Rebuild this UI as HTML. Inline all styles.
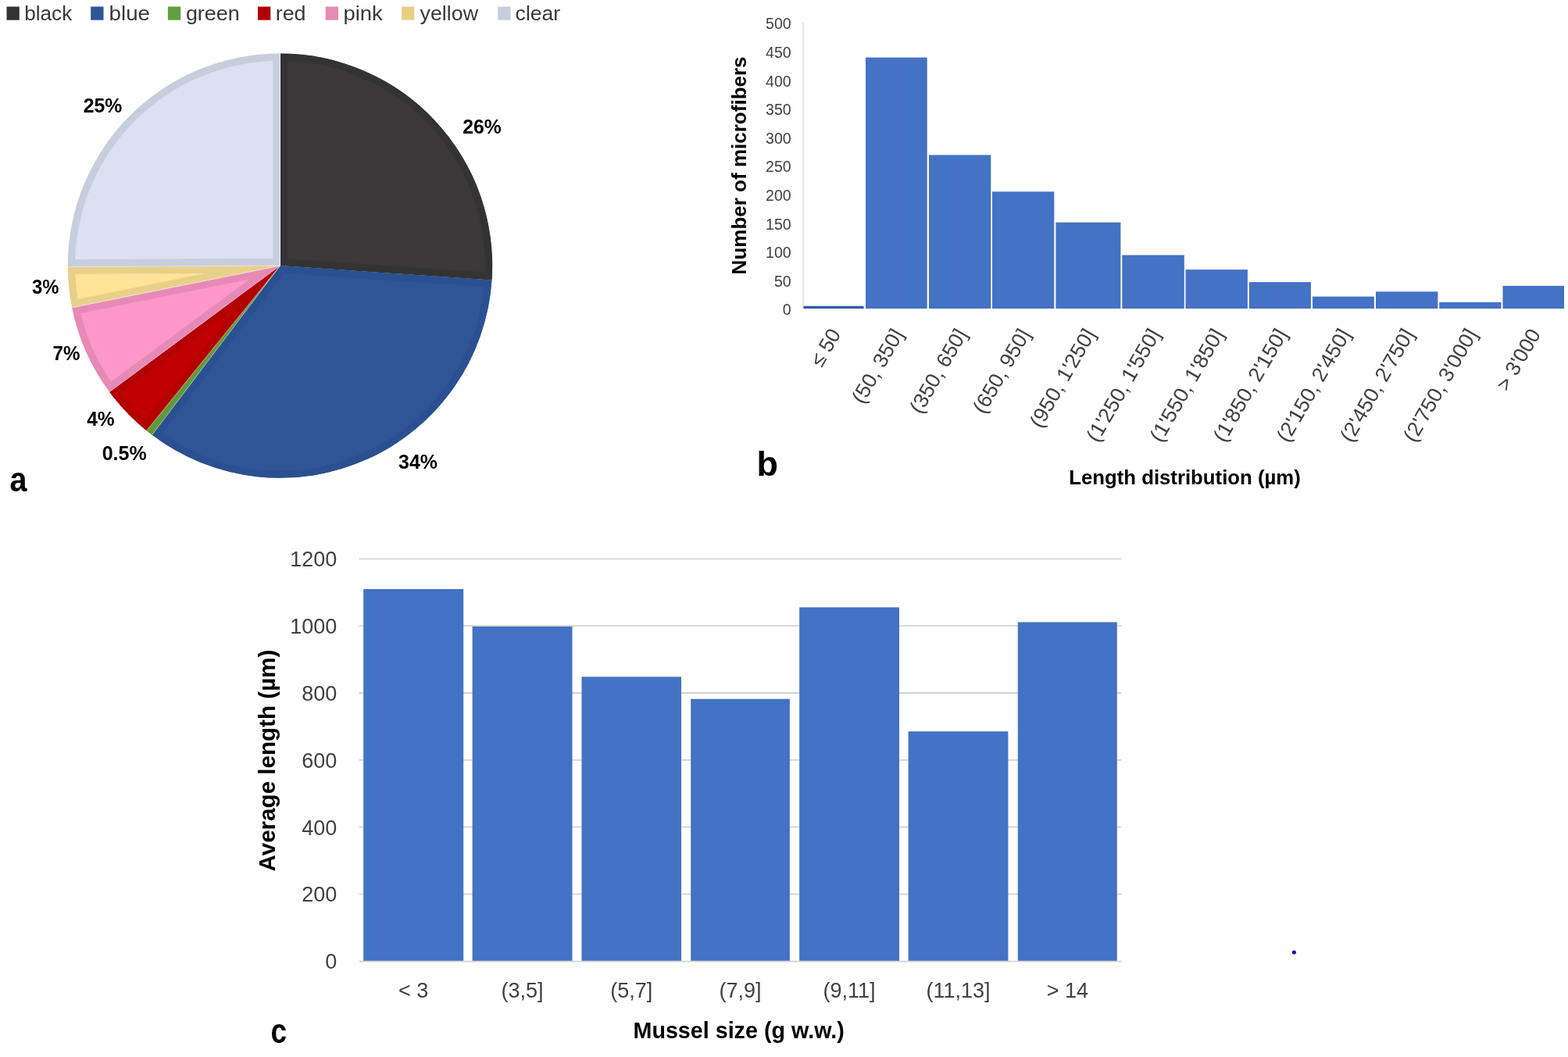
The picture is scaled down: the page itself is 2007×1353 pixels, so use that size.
<!DOCTYPE html>
<html><head><meta charset="utf-8"><title>Figure</title>
<style>html,body{margin:0;padding:0;background:#fff;}svg{display:block;}</style></head>
<body><svg width="2007" height="1353" viewBox="0 0 2007 1353" font-family="'Liberation Sans', sans-serif">
<rect width="2007" height="1353" fill="#fff"/>
<rect x="8.5" y="8.5" width="16.3" height="17.2" fill="#333333"/>
<text x="31.2" y="25.9" font-size="25.5" fill="#383838" textLength="61.1" lengthAdjust="spacingAndGlyphs">black</text>
<rect x="116.2" y="8.5" width="16.3" height="17.2" fill="#2f5597"/>
<text x="139.6" y="25.9" font-size="25.5" fill="#383838" textLength="52.4" lengthAdjust="spacingAndGlyphs">blue</text>
<rect x="214.9" y="8.5" width="16.3" height="17.2" fill="#62a03e"/>
<text x="237.9" y="25.9" font-size="25.5" fill="#383838" textLength="68.9" lengthAdjust="spacingAndGlyphs">green</text>
<rect x="330.0" y="8.5" width="16.3" height="17.2" fill="#b00000"/>
<text x="352.7" y="25.9" font-size="25.5" fill="#383838" textLength="38.8" lengthAdjust="spacingAndGlyphs">red</text>
<rect x="416.7" y="8.5" width="16.3" height="17.2" fill="#e68ab8"/>
<text x="439.4" y="25.9" font-size="25.5" fill="#383838" textLength="50.4" lengthAdjust="spacingAndGlyphs">pink</text>
<rect x="514.0" y="8.5" width="16.3" height="17.2" fill="#e8d089"/>
<text x="537.6" y="25.9" font-size="25.5" fill="#383838" textLength="74.4" lengthAdjust="spacingAndGlyphs">yellow</text>
<rect x="637.3" y="8.5" width="16.3" height="17.2" fill="#c5cedd"/>
<text x="659.6" y="25.9" font-size="25.5" fill="#383838" textLength="57.6" lengthAdjust="spacingAndGlyphs">clear</text>
<defs>
<clipPath id="cp_black"><path d="M358.5,340.1 L358.50,68.40 A271.7,271.7 0 0 1 629.57,358.58 Z"/></clipPath>
<clipPath id="cp_blue"><path d="M358.5,340.1 L629.57,358.58 A271.7,271.7 0 0 1 194.61,556.80 Z"/></clipPath>
<clipPath id="cp_green"><path d="M358.5,340.1 L194.61,556.80 A271.7,271.7 0 0 1 187.51,551.25 Z"/></clipPath>
<clipPath id="cp_red"><path d="M358.5,340.1 L187.51,551.25 A271.7,271.7 0 0 1 140.09,501.71 Z"/></clipPath>
<clipPath id="cp_pink"><path d="M358.5,340.1 L140.09,501.71 A271.7,271.7 0 0 1 92.16,393.80 Z"/></clipPath>
<clipPath id="cp_yellow"><path d="M358.5,340.1 L92.16,393.80 A271.7,271.7 0 0 1 86.80,341.52 Z"/></clipPath>
<clipPath id="cp_clear"><path d="M358.5,340.1 L86.80,341.52 A271.7,271.7 0 0 1 358.50,68.40 Z"/></clipPath>
</defs>
<path d="M358.5,340.1 L358.50,68.40 A271.7,271.7 0 0 1 629.57,358.58 Z" fill="#3a3838" stroke="#343333" stroke-width="18.6" stroke-linejoin="miter" clip-path="url(#cp_black)"/>
<path d="M358.5,340.1 L629.57,358.58 A271.7,271.7 0 0 1 194.61,556.80 Z" fill="#2f5597" stroke="#2b5091" stroke-width="18.6" stroke-linejoin="miter" clip-path="url(#cp_blue)"/>
<path d="M358.5,340.1 L194.61,556.80 A271.7,271.7 0 0 1 187.51,551.25 Z" fill="#70ad47" stroke="#5f9a3a" stroke-width="18.6" stroke-linejoin="miter" clip-path="url(#cp_green)"/>
<path d="M358.5,340.1 L187.51,551.25 A271.7,271.7 0 0 1 140.09,501.71 Z" fill="#c00000" stroke="#b30000" stroke-width="18.6" stroke-linejoin="miter" clip-path="url(#cp_red)"/>
<path d="M358.5,340.1 L140.09,501.71 A271.7,271.7 0 0 1 92.16,393.80 Z" fill="#ff97ca" stroke="#e68ab8" stroke-width="18.6" stroke-linejoin="miter" clip-path="url(#cp_pink)"/>
<path d="M358.5,340.1 L92.16,393.80 A271.7,271.7 0 0 1 86.80,341.52 Z" fill="#ffe498" stroke="#e8d08a" stroke-width="18.6" stroke-linejoin="miter" clip-path="url(#cp_yellow)"/>
<path d="M358.5,340.1 L86.80,341.52 A271.7,271.7 0 0 1 358.50,68.40 Z" fill="#dae2f2" stroke="#c6cedc" stroke-width="18.6" stroke-linejoin="miter" clip-path="url(#cp_clear)"/>
<line x1="358.50" y1="340.10" x2="358.50" y2="68.90" stroke="#ffffff" stroke-width="1" opacity="0.85"/>
<line x1="358.50" y1="340.10" x2="194.91" y2="556.40" stroke="#ffffff" stroke-width="1" opacity="0.45"/>
<line x1="358.50" y1="340.10" x2="187.83" y2="550.86" stroke="#ffffff" stroke-width="1" opacity="0.45"/>
<line x1="358.50" y1="340.10" x2="140.49" y2="501.42" stroke="#ffffff" stroke-width="1" opacity="0.4"/>
<line x1="358.50" y1="340.10" x2="92.65" y2="393.70" stroke="#ffffff" stroke-width="1" opacity="0.5"/>
<line x1="358.50" y1="340.10" x2="87.30" y2="341.52" stroke="#ffffff" stroke-width="1" opacity="0.4"/>
<text x="106.8" y="143.8" font-size="26.5" font-weight="bold" fill="#000" textLength="49.60000000000001" lengthAdjust="spacingAndGlyphs">25%</text>
<text x="592.3000000000001" y="171.4" font-size="26.5" font-weight="bold" fill="#000" textLength="49.49999999999996" lengthAdjust="spacingAndGlyphs">26%</text>
<text x="510.0" y="600.3" font-size="26.5" font-weight="bold" fill="#000" textLength="50.000000000000014" lengthAdjust="spacingAndGlyphs">34%</text>
<text x="40.900000000000006" y="376.1" font-size="26.5" font-weight="bold" fill="#000" textLength="34.5" lengthAdjust="spacingAndGlyphs">3%</text>
<text x="67.5" y="460.8" font-size="26.5" font-weight="bold" fill="#000" textLength="34.900000000000006" lengthAdjust="spacingAndGlyphs">7%</text>
<text x="111.2" y="544.7" font-size="26.5" font-weight="bold" fill="#000" textLength="35.500000000000014" lengthAdjust="spacingAndGlyphs">4%</text>
<text x="130.7" y="589.4" font-size="26.5" font-weight="bold" fill="#000" textLength="57.10000000000001" lengthAdjust="spacingAndGlyphs">0.5%</text>
<text x="12.6" y="629" font-size="45" font-weight="bold" fill="#000" textLength="22" lengthAdjust="spacingAndGlyphs">a</text>
<text x="968.5" y="608.6" font-size="45" font-weight="bold" fill="#000">b</text>
<text x="346.5" y="1334.5" font-size="45" font-weight="bold" fill="#000" textLength="20.5" lengthAdjust="spacingAndGlyphs">c</text>
<line x1="1028" y1="29" x2="1028" y2="395" stroke="#d9d9d9" stroke-width="1.2"/>
<rect x="1028.5" y="391.7" width="77.1" height="3.3" fill="#3259a8"/>
<rect x="1108" y="73.6" width="78.7" height="321.4" fill="#4472c4"/>
<rect x="1189" y="198.4" width="79.3" height="196.6" fill="#4472c4"/>
<rect x="1270" y="245.3" width="79.3" height="149.7" fill="#4472c4"/>
<rect x="1351.4" y="284.7" width="83.0" height="110.3" fill="#4472c4"/>
<rect x="1436.3" y="326.5" width="79.5" height="68.5" fill="#4472c4"/>
<rect x="1517.5" y="345.1" width="79.4" height="49.9" fill="#4472c4"/>
<rect x="1598.9" y="361.1" width="79.0" height="33.9" fill="#4472c4"/>
<rect x="1680" y="379.6" width="78.9" height="15.4" fill="#4472c4"/>
<rect x="1761" y="373.3" width="79.4" height="21.7" fill="#4472c4"/>
<rect x="1842.2" y="386.8" width="79.2" height="8.2" fill="#4472c4"/>
<rect x="1923.5" y="365.9" width="78.5" height="29.1" fill="#4472c4"/>
<text x="1012.6" y="403.3" font-size="19.5" fill="#404040" text-anchor="end">0</text>
<text x="1012.6" y="366.7" font-size="19.5" fill="#404040" text-anchor="end">50</text>
<text x="1012.6" y="330.1" font-size="19.5" fill="#404040" text-anchor="end">100</text>
<text x="1012.6" y="293.5" font-size="19.5" fill="#404040" text-anchor="end">150</text>
<text x="1012.6" y="256.9" font-size="19.5" fill="#404040" text-anchor="end">200</text>
<text x="1012.6" y="220.3" font-size="19.5" fill="#404040" text-anchor="end">250</text>
<text x="1012.6" y="183.7" font-size="19.5" fill="#404040" text-anchor="end">300</text>
<text x="1012.6" y="147.1" font-size="19.5" fill="#404040" text-anchor="end">350</text>
<text x="1012.6" y="110.5" font-size="19.5" fill="#404040" text-anchor="end">400</text>
<text x="1012.6" y="73.9" font-size="19.5" fill="#404040" text-anchor="end">450</text>
<text x="1012.6" y="37.3" font-size="19.5" fill="#404040" text-anchor="end">500</text>
<text transform="translate(954.5,211.9) rotate(-90)" font-size="26.5" font-weight="bold" fill="#000" text-anchor="middle" textLength="279" lengthAdjust="spacingAndGlyphs">Number of microfibers</text>
<text transform="translate(1077.0,427.5) rotate(-60)" font-size="26.5" fill="#404040" text-anchor="end" textLength="50.4" lengthAdjust="spacingAndGlyphs">≤ 50</text>
<text transform="translate(1157.3,427.5) rotate(-60)" font-size="26.5" fill="#404040" text-anchor="end" textLength="105.0" lengthAdjust="spacingAndGlyphs">(50, 350]</text>
<text transform="translate(1238.7,427.5) rotate(-60)" font-size="26.5" fill="#404040" text-anchor="end" textLength="119.7" lengthAdjust="spacingAndGlyphs">(350, 650]</text>
<text transform="translate(1319.7,427.5) rotate(-60)" font-size="26.5" fill="#404040" text-anchor="end" textLength="119.7" lengthAdjust="spacingAndGlyphs">(650, 950]</text>
<text transform="translate(1402.9,427.5) rotate(-60)" font-size="26.5" fill="#404040" text-anchor="end" textLength="140.8" lengthAdjust="spacingAndGlyphs">(950, 1'250]</text>
<text transform="translate(1486.0,427.5) rotate(-60)" font-size="26.5" fill="#404040" text-anchor="end" textLength="161.9" lengthAdjust="spacingAndGlyphs">(1'250, 1'550]</text>
<text transform="translate(1567.2,427.5) rotate(-60)" font-size="26.5" fill="#404040" text-anchor="end" textLength="161.9" lengthAdjust="spacingAndGlyphs">(1'550, 1'850]</text>
<text transform="translate(1648.4,427.5) rotate(-60)" font-size="26.5" fill="#404040" text-anchor="end" textLength="161.9" lengthAdjust="spacingAndGlyphs">(1'850, 2'150]</text>
<text transform="translate(1729.5,427.5) rotate(-60)" font-size="26.5" fill="#404040" text-anchor="end" textLength="161.9" lengthAdjust="spacingAndGlyphs">(2'150, 2'450]</text>
<text transform="translate(1810.7,427.5) rotate(-60)" font-size="26.5" fill="#404040" text-anchor="end" textLength="161.9" lengthAdjust="spacingAndGlyphs">(2'450, 2'750]</text>
<text transform="translate(1891.8,427.5) rotate(-60)" font-size="26.5" fill="#404040" text-anchor="end" textLength="161.9" lengthAdjust="spacingAndGlyphs">(2'750, 3'000]</text>
<text transform="translate(1972.8,427.5) rotate(-60)" font-size="26.5" fill="#404040" text-anchor="end" textLength="86.2" lengthAdjust="spacingAndGlyphs">> 3'000</text>
<text x="1516.5" y="619.5" font-size="25.5" font-weight="bold" fill="#000" text-anchor="middle" textLength="296.5" lengthAdjust="spacingAndGlyphs">Length distribution (µm)</text>
<line x1="459.6" y1="1144.5" x2="1435.4" y2="1144.5" stroke="#d3d3d3" stroke-width="1.8"/>
<line x1="459.6" y1="1058.7" x2="1435.4" y2="1058.7" stroke="#d3d3d3" stroke-width="1.8"/>
<line x1="459.6" y1="972.9" x2="1435.4" y2="972.9" stroke="#d3d3d3" stroke-width="1.8"/>
<line x1="459.6" y1="887.0" x2="1435.4" y2="887.0" stroke="#d3d3d3" stroke-width="1.8"/>
<line x1="459.6" y1="801.2" x2="1435.4" y2="801.2" stroke="#d3d3d3" stroke-width="1.8"/>
<line x1="459.6" y1="715.4" x2="1435.4" y2="715.4" stroke="#d3d3d3" stroke-width="1.8"/>
<rect x="465.2" y="754.0" width="128.0" height="476.6" fill="#4472c4"/>
<rect x="604.6" y="802.0" width="127.9" height="428.6" fill="#4472c4"/>
<rect x="744.5" y="866.3" width="127.5" height="364.3" fill="#4472c4"/>
<rect x="884.2" y="894.7" width="126.7" height="335.9" fill="#4472c4"/>
<rect x="1023.2" y="777.4" width="127.8" height="453.2" fill="#4472c4"/>
<rect x="1162.6" y="936.2" width="127.8" height="294.4" fill="#4472c4"/>
<rect x="1302.8" y="796.4" width="127.0" height="434.2" fill="#4472c4"/>
<line x1="459.6" y1="1230.6" x2="1435.4" y2="1230.6" stroke="#d3d3d3" stroke-width="1.8"/>
<text x="431.3" y="1240.2" font-size="27" fill="#404040" text-anchor="end">0</text>
<text x="431.3" y="1154.4" font-size="27" fill="#404040" text-anchor="end">200</text>
<text x="431.3" y="1068.6" font-size="27" fill="#404040" text-anchor="end">400</text>
<text x="431.3" y="982.8" font-size="27" fill="#404040" text-anchor="end">600</text>
<text x="431.3" y="896.9" font-size="27" fill="#404040" text-anchor="end">800</text>
<text x="431.3" y="811.1" font-size="27" fill="#404040" text-anchor="end">1000</text>
<text x="431.3" y="725.3" font-size="27" fill="#404040" text-anchor="end">1200</text>
<text x="529.2" y="1277" font-size="27" fill="#404040" text-anchor="middle">&lt; 3</text>
<text x="668.5" y="1277" font-size="27" fill="#404040" text-anchor="middle">(3,5]</text>
<text x="808.2" y="1277" font-size="27" fill="#404040" text-anchor="middle">(5,7]</text>
<text x="947.5" y="1277" font-size="27" fill="#404040" text-anchor="middle">(7,9]</text>
<text x="1087.1" y="1277" font-size="27" fill="#404040" text-anchor="middle">(9,11]</text>
<text x="1226.5" y="1277" font-size="27" fill="#404040" text-anchor="middle">(11,13]</text>
<text x="1366.3" y="1277" font-size="27" fill="#404040" text-anchor="middle">&gt; 14</text>
<text x="945.7" y="1329.1" font-size="30" font-weight="bold" fill="#000" text-anchor="middle" textLength="270.4" lengthAdjust="spacingAndGlyphs">Mussel size (g w.w.)</text>
<text transform="translate(352.3,973.6) rotate(-90)" font-size="29.5" font-weight="bold" fill="#000" text-anchor="middle" textLength="284" lengthAdjust="spacingAndGlyphs">Average length (µm)</text>
<circle cx="1656.4" cy="1219" r="2.6" fill="#1f14b5"/>
</svg></body></html>
